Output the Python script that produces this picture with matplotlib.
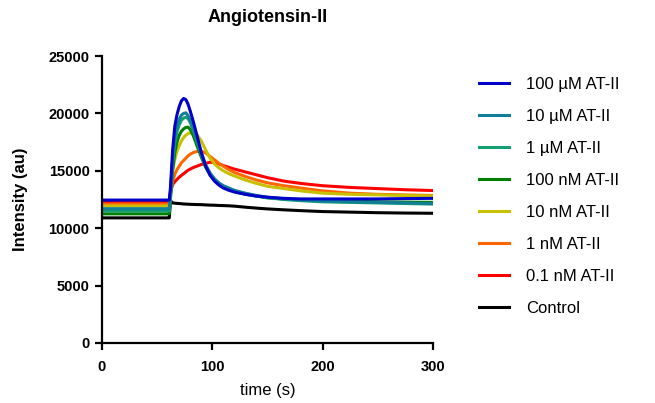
import matplotlib
matplotlib.use("Agg")
import matplotlib.pyplot as plt

plt.rcParams['font.family'] = ['Liberation Sans', 'DejaVu Sans']

# time points (s)
t = [0, 60, 61, 62, 64, 66, 68, 70, 72, 74, 76, 78, 80, 83, 86, 90, 94, 98, 102,
     106, 110, 115, 120, 130, 140, 150, 165, 180, 200, 225, 250, 275, 300]

# intensity (au)
um100 = [12450, 12450, 12450, 13500, 16800, 18900, 19900, 20600, 21100, 21300, 21200,
         20800, 20200, 19200, 18100, 16600, 15400, 14600, 14100, 13750, 13500, 13300,
         13150, 12950, 12800, 12700, 12600, 12550, 12550, 12550, 12550, 12580, 12600]
um10 = [11700, 11700, 11700, 13000, 16000, 17900, 18900, 19500, 19850, 20000, 20050,
        19800, 19400, 18600, 17700, 16500, 15500, 14800, 14300, 13950, 13700, 13500,
        13300, 13050, 12850, 12700, 12550, 12450, 12350, 12300, 12250, 12200, 12150]
um1 = [11500, 11500, 11500, 12800, 15600, 17400, 18400, 19000, 19400, 19600, 19650,
       19550, 19200, 18450, 17600, 16400, 15450, 14750, 14250, 13900, 13650, 13450,
       13250, 13000, 12800, 12650, 12500, 12400, 12300, 12250, 12200, 12150, 12100]
nm100 = [11250, 11250, 11250, 12500, 15000, 16600, 17500, 18100, 18450, 18650, 18780,
         18800, 18600, 18000, 17200, 16200, 15300, 14650, 14200, 13850, 13600, 13400,
         13200, 12950, 12800, 12650, 12550, 12450, 12400, 12350, 12300, 12270, 12250]
nm10 = [11930, 11930, 11930, 13000, 15000, 16000, 16700, 17200, 17600, 17900, 18100,
        18250, 18300, 18300, 18150, 17600, 16800, 16100, 15600, 15250, 15000, 14750,
        14550, 14200, 13900, 13650, 13450, 13250, 13050, 12950, 12900, 12850, 12800]
nm1 = [12100, 12100, 12100, 13000, 14100, 14700, 15100, 15400, 15700, 15900, 16100,
       16300, 16450, 16600, 16680, 16700, 16550, 16250, 15950, 15650, 15400, 15100,
       14850, 14500, 14200, 13950, 13700, 13500, 13250, 13050, 12950, 12900, 12850]
nm01 = [12280, 12280, 12280, 13100, 13800, 14050, 14250, 14450, 14600, 14750, 14900,
        15050, 15150, 15300, 15400, 15550, 15650, 15750, 15700, 15600, 15450, 15300,
        15150, 14900, 14650, 14400, 14100, 13900, 13700, 13550, 13450, 13350, 13280]
control = [10900, 10900, 10900, 12400, 12200, 12180, 12160, 12150, 12130, 12110, 12100,
           12090, 12080, 12070, 12060, 12050, 12030, 12010, 12000, 11980, 11970, 11950,
           11920, 11830, 11750, 11680, 11600, 11530, 11450, 11400, 11350, 11320, 11300]

labels = ['100 µM AT-II', '10 µM AT-II', '1 µM AT-II', '100 nM AT-II',
          '10 nM AT-II', '1 nM AT-II', '0.1 nM AT-II', 'Control']
series = [um100, um10, um1, nm100, nm10, nm1, nm01, control]
colors = ['#0000c8', '#127f99', '#13a070', '#008000', '#c8c000', '#ff6600', '#ff0000', '#000000']

fig = plt.figure(figsize=(6.55, 4.03), dpi=100)
ax = fig.add_axes([102 / 655, 60 / 403, 331 / 655, 287 / 403])

# draw back-to-front so blue sits on top like the reference
for y, c, lab in reversed(list(zip(series, colors, labels))):
    ax.plot(t, y, color=c, lw=2.2, label=lab, solid_joinstyle='round')

ax.set_xlim(0, 300)
ax.set_ylim(0, 25000)
ax.set_xticks([0, 100, 200, 300])
ax.set_yticks([0, 5000, 10000, 15000, 20000, 25000])
for s in ['top', 'right']:
    ax.spines[s].set_visible(False)
for s in ['left', 'bottom']:
    ax.spines[s].set_linewidth(1.6)
ax.tick_params(direction='out', length=5, width=1.6, labelsize=10.5)
ax.tick_params(axis='y', pad=4)
ax.tick_params(axis='x', pad=7)
for lbl in ax.get_xticklabels() + ax.get_yticklabels():
    lbl.set_fontweight('bold')

ax.set_xlabel('time (s)', fontsize=12, labelpad=7)
ax.set_ylabel('Intensity (au)', fontsize=12, fontweight='bold', labelpad=15)
fig.text(268 / 655, 1 - 17 / 403, 'Angiotensin-II', ha='center', va='center',
         fontsize=13, fontweight='bold')

handles, labs = ax.get_legend_handles_labels()
fig.legend(handles[::-1], labs[::-1], loc='upper left', bbox_to_anchor=(479 / 655, 1 - 77 / 403),
           frameon=False, fontsize=12, handlelength=1.8, handletextpad=1.0,
           labelspacing=1.02, borderaxespad=0, borderpad=0)

fig.savefig('out.png', dpi=100)
